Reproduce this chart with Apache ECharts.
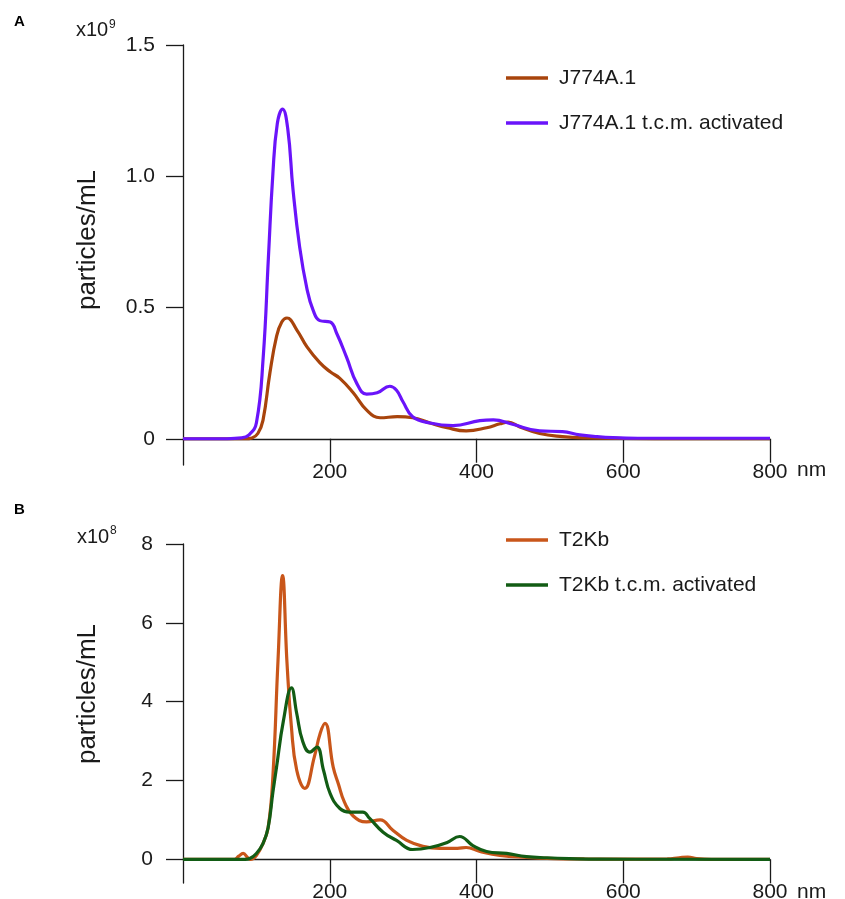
<!DOCTYPE html>
<html>
<head>
<meta charset="utf-8">
<script src="https://cdn.jsdelivr.net/npm/echarts@6/dist/echarts.min.js"></script>
<style>
html,body{margin:0;padding:0;background:#fff;}
#chart{width:845px;height:899px;}
</style>
</head>
<body>
<div id="chart"></div>
<script>
// Panel A (x10^9 particles/mL), size in nm
const jName = 'J774A.1';
const jActName = 'J774A.1 t.c.m. activated';
const jSize = [0, 85, 94, 102, 109, 118.4, 127.5, 134.6, 141.7, 155, 169, 186.4, 200.6, 213.8, 232, 250, 268.6, 292, 313, 336.6, 360, 386, 413.8, 432, 443, 459, 486, 517, 547, 600, 800];
const jVal  = [0, 0, 0.003, 0.02, 0.07, 0.25, 0.39, 0.445, 0.46, 0.415, 0.35, 0.29, 0.255, 0.23, 0.175, 0.11, 0.08, 0.084, 0.08, 0.06, 0.042, 0.03, 0.042, 0.057, 0.063, 0.045, 0.02, 0.008, 0.003, 0.001, 0];
const jActSize = [0, 60, 79.8, 90, 100, 109.3, 116.4, 122.5, 128.5, 135.7, 142.8, 149.9, 159, 169, 177.3, 186.4, 200.6, 209.7, 223, 237, 250.3, 264.6, 281.8, 291, 300, 313, 336.6, 368, 404.6, 423, 449, 486, 517, 540.6, 564, 586, 620, 700, 800];
const jActVal  = [0, 0, 0.003, 0.015, 0.06, 0.31, 0.69, 1.01, 1.2, 1.256, 1.18, 0.95, 0.73, 0.57, 0.49, 0.45, 0.445, 0.40, 0.31, 0.21, 0.17, 0.175, 0.20, 0.185, 0.14, 0.084, 0.06, 0.05, 0.069, 0.072, 0.055, 0.03, 0.027, 0.015, 0.008, 0.004, 0.002, 0.002, 0.002];

// Panel B (x10^8 particles/mL)
const tName = 'T2Kb';
const tActName = 'T2Kb t.c.m. activated';
const tSize = [0, 70, 76, 82, 88, 92, 100, 109, 116, 122.5, 129.5, 135.7, 141.7, 147.8, 155, 166, 179, 187, 193.5, 204.7, 212, 220, 232, 250, 268.6, 286, 305, 327, 350, 374, 386, 404.6, 432, 468, 506, 547, 600, 660, 676, 688, 700, 720, 800];
const tVal  = [0, 0, 0.08, 0.15, 0.05, 0, 0.1, 0.4, 0.8, 2.1, 5.05, 7.2, 5.0, 3.35, 2.26, 1.8, 2.6, 3.2, 3.45, 2.34, 1.9, 1.45, 1.1, 0.95, 1.0, 0.74, 0.48, 0.33, 0.28, 0.28, 0.3, 0.2, 0.1, 0.05, 0.02, 0.01, 0.005, 0.01, 0.04, 0.06, 0.02, 0, 0];
const tActSize = [0, 85, 91, 100, 109, 116, 122.5, 127.5, 136.7, 147.8, 155, 163, 173, 182.4, 191.5, 200.6, 213.8, 227, 245, 254.4, 272.7, 291, 313, 336.6, 360, 377, 395, 413.8, 441, 468, 496, 526.5, 567, 800];
const tActVal  = [0, 0, 0.02, 0.15, 0.4, 0.8, 1.7, 2.34, 3.5, 4.35, 3.7, 3.0, 2.72, 2.85, 2.26, 1.67, 1.29, 1.2, 1.2, 1.04, 0.69, 0.48, 0.25, 0.3, 0.43, 0.58, 0.35, 0.2, 0.15, 0.07, 0.04, 0.02, 0.005, 0];

const xTicks = [200, 400, 600, 800];
const yTicksA = [0, 0.5, 1.0, 1.5];
const yTicksB = [0, 2, 4, 6, 8];

const zip = (xs, ys) => xs.map((x, i) => [x, ys[i]]);
const FONT = 'Liberation Sans, Arial, sans-serif';
const INK = '#1a1a1a';

const chart = echarts.init(document.getElementById('chart'), null, {renderer: 'canvas'});

function xAxisFor(gridIndex, labelMargin, namePad) {
  return {
    type: 'value', gridIndex: gridIndex, min: 0, max: 800, interval: 200,
    name: 'nm', nameLocation: 'end', nameGap: 27,
    nameTextStyle: {color: INK, fontSize: 21, fontFamily: FONT, verticalAlign: 'top', padding: [namePad, 0, 0, 0], align: 'left'},
    axisLine: {show: true, onZero: true, lineStyle: {color: INK, width: 1.3}},
    axisTick: {show: true, inside: false, length: 24, customValues: xTicks, lineStyle: {color: INK, width: 1.3}},
    axisLabel: {show: true, margin: labelMargin, color: INK, fontSize: 21, fontFamily: FONT, customValues: xTicks},
    splitLine: {show: false}
  };
}
function yAxisFor(gridIndex, min, max, ticks, fmt, margin) {
  return {
    type: 'value', gridIndex: gridIndex, min: min, max: max,
    axisLine: {show: true, onZero: false, lineStyle: {color: INK, width: 1.3}},
    axisTick: {show: true, inside: false, length: 17, customValues: ticks, lineStyle: {color: INK, width: 1.3}},
    axisLabel: {show: true, margin: margin, color: INK, fontSize: 21, fontFamily: FONT, customValues: ticks, formatter: fmt},
    splitLine: {show: false}
  };
}
function lineSeries(name, data, color, xi, yi) {
  return {
    type: 'line', name: name, data: data, xAxisIndex: xi, yAxisIndex: yi,
    smooth: 0.45, symbol: 'none', showSymbol: false,
    lineStyle: {color: color, width: 3.2}, itemStyle: {color: color},
    z: 3, animation: false
  };
}
function legendFor(names, top) {
  return {
    data: names, orient: 'vertical', left: 506, top: top,
    icon: 'rect', itemWidth: 42, itemHeight: 3.5, itemGap: 21, padding: 0,
    textStyle: {color: INK, fontSize: 21, fontFamily: FONT, lineHeight: 24, padding: [0, 0, 0, 6]},
    selectedMode: false
  };
}

chart.setOption({
  backgroundColor: '#ffffff',
  animation: false,
  grid: [
    {left: 183, width: 587, top: 45, height: 420, containLabel: false, outerBoundsMode: 'none'},
    {left: 183, width: 587, top: 544, height: 339, containLabel: false, outerBoundsMode: 'none'}
  ],
  xAxis: [xAxisFor(0, -3, 21), xAxisFor(1, -1, 22)],
  yAxis: [
    yAxisFor(0, -0.1, 1.5, yTicksA, v => (v === 0 ? '0' : v.toFixed(1)), 28),
    yAxisFor(1, -0.6, 8, yTicksB, v => String(Math.round(v)), 30)
  ],
  legend: [legendFor([jName, jActName], 66), legendFor([tName, tActName], 528)],
  series: [
    lineSeries(jName, zip(jSize, jVal), '#A8440C', 0, 0),
    lineSeries(jActName, zip(jActSize, jActVal), '#6A14FA', 0, 0),
    lineSeries(tName, zip(tSize, tVal), '#C9561A', 1, 1),
    lineSeries(tActName, zip(tActSize, tActVal), '#125C14', 1, 1)
  ],
  graphic: [
    {type: 'text', x: 14, y: 22, style: {text: 'A', fontSize: 15, fontWeight: 'bold', fontFamily: FONT, fill: '#000', verticalAlign: 'middle'}},
    {type: 'text', x: 14, y: 510, style: {text: 'B', fontSize: 15, fontWeight: 'bold', fontFamily: FONT, fill: '#000', verticalAlign: 'middle'}},
    {type: 'text', x: 76, y: 30, style: {text: 'x10', fontSize: 20, fontFamily: FONT, fill: INK, verticalAlign: 'middle'}},
    {type: 'text', x: 109, y: 25, style: {text: '9', fontSize: 12, fontFamily: FONT, fill: INK, verticalAlign: 'middle'}},
    {type: 'text', x: 77, y: 537, style: {text: 'x10', fontSize: 20, fontFamily: FONT, fill: INK, verticalAlign: 'middle'}},
    {type: 'text', x: 110, y: 531, style: {text: '8', fontSize: 12, fontFamily: FONT, fill: INK, verticalAlign: 'middle'}},
    {type: 'text', x: 88, y: 240, rotation: Math.PI / 2, style: {text: 'particles/mL', fontSize: 26, fontFamily: FONT, fill: INK, align: 'center', verticalAlign: 'middle'}},
    {type: 'text', x: 88, y: 694, rotation: Math.PI / 2, style: {text: 'particles/mL', fontSize: 26, fontFamily: FONT, fill: INK, align: 'center', verticalAlign: 'middle'}}
  ]
});
</script>
</body>
</html>
